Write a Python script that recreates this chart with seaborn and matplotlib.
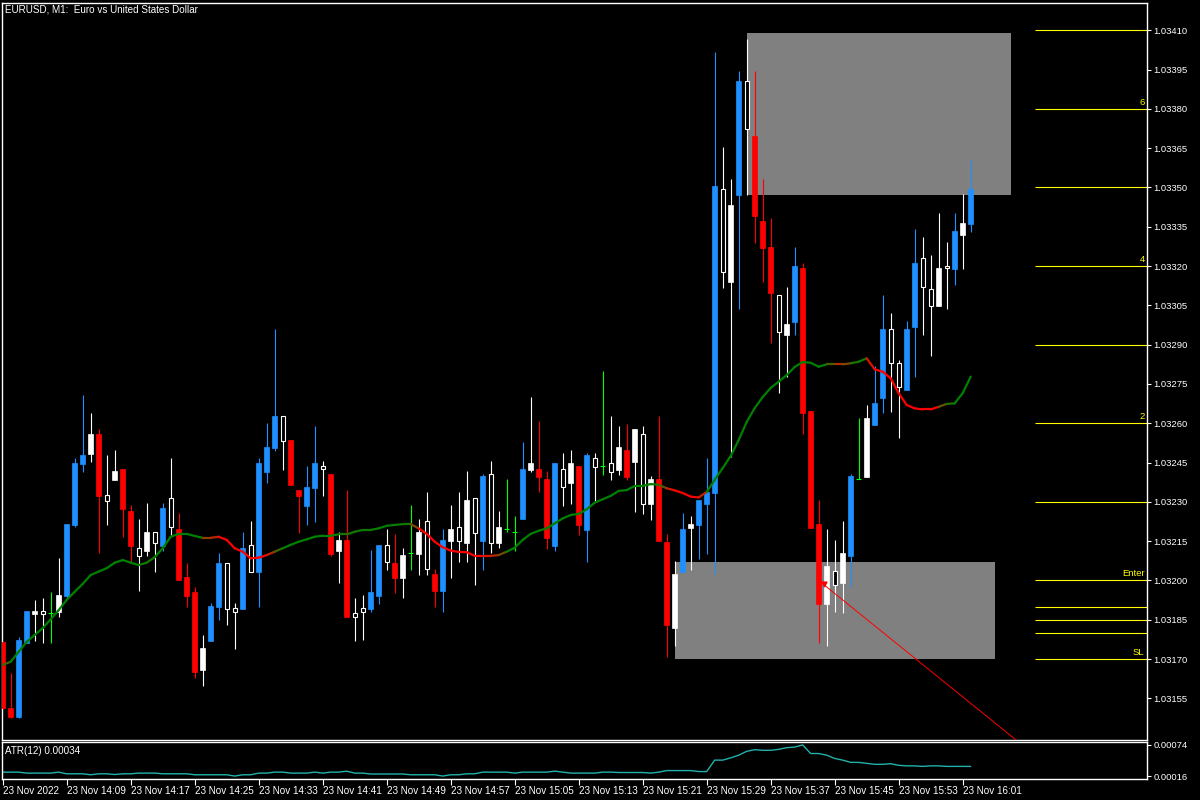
import numpy as np
import pandas as pd
import matplotlib
matplotlib.use('Agg')
import matplotlib.pyplot as plt
import seaborn as sns
from matplotlib.collections import LineCollection
from matplotlib.colors import LinearSegmentedColormap
from matplotlib.patches import Rectangle

# EURUSD M1, 23 Nov 2022, bars 14:01 .. 16:02
opens = [1.031766, 1.031515, 1.031480, 1.031761, 1.031873, 1.031884, 1.031875, 1.031881, 1.031941, 1.032212,
         1.032445, 1.032483, 1.032559, 1.032325, 1.032384, 1.032426, 1.032265, 1.032123, 1.032114, 1.032184,
         1.032133, 1.032314, 1.032197, 1.032013, 1.031956, 1.031658, 1.031769, 1.031899, 1.032067, 1.031895,
         1.031891, 1.032136, 1.032034, 1.032414, 1.032507, 1.032628, 1.032536, 1.032345, 1.032286, 1.032354,
         1.032437, 1.032406, 1.032114, 1.032155, 1.031875, 1.031894, 1.031891, 1.031942, 1.032136, 1.032066,
         1.032011, 1.032104, 1.032101, 1.032227, 1.032025, 1.031961, 1.032152, 1.032203, 1.032144, 1.032314,
         1.032152, 1.032405, 1.032144, 1.032195, 1.032184, 1.032234, 1.032422, 1.032426, 1.032387, 1.032133,
         1.032426, 1.032373, 1.032437, 1.032193, 1.032466, 1.032437, 1.032447, 1.032422, 1.032498, 1.032453,
         1.032558, 1.032292, 1.032387, 1.032146, 1.031820, 1.032034, 1.032202, 1.032212, 1.032292, 1.032335,
         1.033493, 1.033140, 1.033471, 1.033906, 1.033697, 1.033372, 1.033273, 1.033090, 1.032937, 1.032988,
         1.033193, 1.032647, 1.032216, 1.031910, 1.032036, 1.031992, 1.032094, 1.032386, 1.032396, 1.032595,
         1.032698, 1.032960, 1.032829, 1.032727, 1.032969, 1.033230, 1.033111, 1.033049, 1.033199, 1.033189,
         1.033319, 1.033361]
highs = [1.031766, 1.031646, 1.031785, 1.031885, 1.031926, 1.031932, 1.031956, 1.032085, 1.032216, 1.032469,
         1.032708, 1.032641, 1.032578, 1.032479, 1.032498, 1.032426, 1.032288, 1.032235, 1.032295, 1.032184,
         1.032296, 1.032466, 1.032256, 1.032068, 1.031976, 1.031792, 1.031915, 1.032106, 1.032067, 1.031915,
         1.032186, 1.032228, 1.032469, 1.032600, 1.032960, 1.032628, 1.032536, 1.032345, 1.032437, 1.032590,
         1.032456, 1.032406, 1.032184, 1.032345, 1.031932, 1.031945, 1.032116, 1.032136, 1.032197, 1.032178,
         1.032123, 1.032288, 1.032234, 1.032337, 1.032043, 1.032197, 1.032288, 1.032337, 1.032418, 1.032314,
         1.032405, 1.032456, 1.032265, 1.032387, 1.032246, 1.032530, 1.032702, 1.032609, 1.032418, 1.032447,
         1.032485, 1.032498, 1.032437, 1.032485, 1.032485, 1.032800, 1.032628, 1.032590, 1.032597, 1.032578,
         1.032590, 1.032399, 1.032628, 1.032176, 1.032074, 1.032256, 1.032246, 1.032307, 1.032466, 1.034017,
         1.033653, 1.033532, 1.033945, 1.034067, 1.033945, 1.033532, 1.033382, 1.033090, 1.033119, 1.033272,
         1.033211, 1.032647, 1.032307, 1.032197, 1.032155, 1.032227, 1.032405, 1.032619, 1.032670, 1.032819,
         1.033090, 1.033020, 1.032842, 1.032990, 1.033342, 1.033310, 1.033242, 1.033403, 1.033292, 1.033403,
         1.033475, 1.033605]
lows = [1.031508, 1.031474, 1.031476, 1.031761, 1.031769, 1.031763, 1.031763, 1.031862, 1.031931, 1.032205,
        1.032415, 1.032453, 1.032104, 1.032212, 1.032384, 1.032166, 1.032072, 1.031961, 1.032095, 1.032034,
        1.032114, 1.032174, 1.032002, 1.031900, 1.031629, 1.031597, 1.031769, 1.031849, 1.031830, 1.031739,
        1.031891, 1.032034, 1.031900, 1.032373, 1.032495, 1.032422, 1.032365, 1.032180, 1.032212, 1.032224,
        1.032324, 1.032095, 1.031992, 1.031861, 1.031769, 1.031773, 1.031881, 1.031910, 1.032040, 1.031953,
        1.031932, 1.032040, 1.032021, 1.032021, 1.031900, 1.031881, 1.032011, 1.032072, 1.032072, 1.031983,
        1.032040, 1.032104, 1.032123, 1.032184, 1.032114, 1.032234, 1.032415, 1.032337, 1.032120, 1.032114,
        1.032286, 1.032292, 1.032174, 1.032072, 1.032303, 1.032403, 1.032384, 1.032403, 1.032384, 1.032263,
        1.032254, 1.032231, 1.032152, 1.031709, 1.031751, 1.032034, 1.032040, 1.032082, 1.032101, 1.032024,
        1.033118, 1.032473, 1.033036, 1.033471, 1.033289, 1.033140, 1.032908, 1.032717, 1.032778, 1.032937,
        1.032558, 1.032202, 1.031763, 1.031751, 1.031881, 1.031875, 1.031974, 1.032386, 1.032396, 1.032595,
        1.032638, 1.032644, 1.032545, 1.032727, 1.032778, 1.032937, 1.032858, 1.033049, 1.033037, 1.033128,
        1.033189, 1.033330]
closes = [1.031512, 1.031478, 1.031773, 1.031885, 1.031884, 1.031873, 1.031875, 1.031945, 1.032216, 1.032450,
          1.032479, 1.032559, 1.032323, 1.032305, 1.032419, 1.032273, 1.032133, 1.032095, 1.032184, 1.032144,
          1.032277, 1.032203, 1.032002, 1.031941, 1.031652, 1.031744, 1.031903, 1.032068, 1.031892, 1.031881,
          1.032125, 1.032034, 1.032450, 1.032511, 1.032628, 1.032534, 1.032365, 1.032324, 1.032358, 1.032448,
          1.032424, 1.032101, 1.032155, 1.031862, 1.031862, 1.031881, 1.031955, 1.032136, 1.032072, 1.032011,
          1.032097, 1.032104, 1.032186, 1.032043, 1.031961, 1.032155, 1.032197, 1.032152, 1.032307, 1.032183,
          1.032399, 1.032144, 1.032203, 1.032195, 1.032184, 1.032426, 1.032447, 1.032396, 1.032163, 1.032447,
          1.032356, 1.032447, 1.032212, 1.032479, 1.032434, 1.032437, 1.032415, 1.032508, 1.032396, 1.032578,
          1.032292, 1.032387, 1.032152, 1.031830, 1.032025, 1.032197, 1.032216, 1.032307, 1.032337, 1.033506,
          1.033179, 1.033433, 1.033906, 1.033722, 1.033392, 1.033270, 1.033098, 1.032950, 1.032979, 1.033200,
          1.032638, 1.032202, 1.031910, 1.032056, 1.031983, 1.032106, 1.032399, 1.032386, 1.032619, 1.032679,
          1.032960, 1.032829, 1.032737, 1.032960, 1.033211, 1.033119, 1.033049, 1.033192, 1.033192, 1.033334,
          1.033365, 1.033494]
# candle colouring: b blue, r red, w white body, h hollow, d doji
kinds = list("rrbbwhdwbb" "bwrhwrrhwh" "bhrrrwbbhh" "bhbbbhrrbb" "hrwrhhbbhr"
             "wdwhrbwhwh" "bhwddbwrrb" "hwrbhdhwrw" "hwrrwbwbbb" "hwbhrrrhwb"
             "rrrwhwbdwb" "bhhbbhhwhb" "wb")

# moving average drawn on the chart
ma = [1.031678, 1.031690, 1.031728, 1.031766, 1.031792, 1.031818, 1.031852, 1.031887, 1.031926, 1.031957,
      1.031987, 1.032021, 1.032034, 1.032047, 1.032068, 1.032078, 1.032068, 1.032059, 1.032068, 1.032089,
      1.032123, 1.032167, 1.032178, 1.032178, 1.032170, 1.032163, 1.032163, 1.032167, 1.032155, 1.032123,
      1.032110, 1.032085, 1.032087, 1.032097, 1.032110, 1.032123, 1.032136, 1.032148, 1.032157, 1.032167,
      1.032171, 1.032171, 1.032176, 1.032176, 1.032186, 1.032193, 1.032193, 1.032199, 1.032209, 1.032212,
      1.032215, 1.032215, 1.032199, 1.032178, 1.032148, 1.032127, 1.032114, 1.032109, 1.032108, 1.032094,
      1.032094, 1.032094, 1.032097, 1.032110, 1.032125, 1.032155, 1.032178, 1.032190, 1.032199, 1.032218,
      1.032237, 1.032250, 1.032254, 1.032272, 1.032297, 1.032310, 1.032323, 1.032342, 1.032345, 1.032361,
      1.032361, 1.032368, 1.032365, 1.032352, 1.032344, 1.032334, 1.032320, 1.032317, 1.032338, 1.032384,
      1.032429, 1.032475, 1.032536, 1.032605, 1.032658, 1.032700, 1.032735, 1.032759, 1.032784, 1.032815,
      1.032834, 1.032831, 1.032816, 1.032825, 1.032825, 1.032825, 1.032829, 1.032835, 1.032848, 1.032806,
      1.032797, 1.032772, 1.032715, 1.032670, 1.032657, 1.032653, 1.032653, 1.032663, 1.032674, 1.032676,
      1.032715, 1.032778]

# ATR(12) sub window
atr = [0.000233, 0.000233, 0.000233, 0.000215, 0.000215, 0.000215, 0.000215, 0.000233, 0.000202, 0.000202,
       0.000202, 0.000184, 0.000202, 0.000202, 0.000189, 0.000202, 0.000202, 0.000215, 0.000215, 0.000215,
       0.000202, 0.000202, 0.000202, 0.000202, 0.000184, 0.000184, 0.000184, 0.000184, 0.000184, 0.000160,
       0.000184, 0.000184, 0.000215, 0.000215, 0.000233, 0.000233, 0.000215, 0.000215, 0.000215, 0.000233,
       0.000215, 0.000233, 0.000233, 0.000251, 0.000215, 0.000215, 0.000198, 0.000198, 0.000198, 0.000198,
       0.000198, 0.000184, 0.000184, 0.000184, 0.000184, 0.000160, 0.000184, 0.000184, 0.000202, 0.000202,
       0.000233, 0.000233, 0.000233, 0.000233, 0.000215, 0.000233, 0.000233, 0.000233, 0.000233, 0.000251,
       0.000233, 0.000215, 0.000215, 0.000215, 0.000215, 0.000233, 0.000233, 0.000226, 0.000226, 0.000226,
       0.000226, 0.000215, 0.000233, 0.000262, 0.000262, 0.000262, 0.000262, 0.000244, 0.000244, 0.000457,
       0.000457, 0.000499, 0.000549, 0.000621, 0.000652, 0.000640, 0.000640, 0.000658, 0.000689, 0.000700,
       0.000740, 0.000580, 0.000580, 0.000549, 0.000488, 0.000457, 0.000415, 0.000415, 0.000397, 0.000379,
       0.000379, 0.000390, 0.000360, 0.000350, 0.000350, 0.000340, 0.000350, 0.000350, 0.000340, 0.000340,
       0.000340, 0.000340]

# right hand level lines
levels = [1.03410, 1.03380, 1.03350, 1.03320, 1.03290, 1.03260, 1.03230, 1.03200, 1.03190, 1.03185, 1.03180, 1.03170]
level_labels = ['', '6', '', '4', '', '2', '', 'Enter', '', '', '', 'SL']

# rectangles: (start bar, end bar, low, high)
zones = [(93, 126, 1.03347, 1.03409), (84, 124, 1.03170, 1.03207)]
# red trend line anchors (bar, price)
trend = [(102.4, 1.03199), (117.4, 1.03162)]

price_ticks = [1.03155, 1.03170, 1.03185, 1.03200, 1.03215, 1.03230, 1.03245, 1.03260, 1.03275, 1.03290,
               1.03305, 1.03320, 1.03335, 1.03350, 1.03365, 1.03380, 1.03395, 1.03410]
time_ticks = [0, 8, 16, 24, 32, 40, 48, 56, 64, 72, 80, 88, 96, 104, 112, 120]
time_labels = ['23 Nov 2022', '23 Nov 14:09', '23 Nov 14:17', '23 Nov 14:25', '23 Nov 14:33', '23 Nov 14:41',
               '23 Nov 14:49', '23 Nov 14:57', '23 Nov 15:05', '23 Nov 15:13', '23 Nov 15:21', '23 Nov 15:29',
               '23 Nov 15:37', '23 Nov 15:45', '23 Nov 15:53', '23 Nov 16:01']

sns.set_theme(style='dark', rc={'axes.facecolor': 'black', 'figure.facecolor': 'black',
                                'axes.edgecolor': 'white', 'text.color': 'white',
                                'xtick.color': 'white', 'ytick.color': 'white'})
plt.rcParams['font.family'] = ['Liberation Sans', 'DejaVu Sans']
FS = 6.8
FT = 7.1

df = pd.DataFrame({'o': opens, 'h': highs, 'l': lows, 'c': closes, 'kind': kinds})
df['bar'] = np.arange(len(df))
df['lo'] = df[['o', 'c']].min(axis=1)
df['hi'] = df[['o', 'c']].max(axis=1)
colours = {'b': '#1E90FF', 'r': '#FF0000', 'w': '#FFFFFF', 'h': '#FFFFFF', 'd': '#00FF00'}
df['col'] = df['kind'].map(colours)

fig = plt.figure(figsize=(12, 8), dpi=100)
ax = fig.add_axes([2 / 1200, 60 / 800, 1145 / 1200, 737 / 800])
ax2 = fig.add_axes([2 / 1200, 21 / 800, 1145 / 1200, 37 / 800])
xlim = (-0.0875, 143.04)

# zones in the background
for b0, b1, p0, p1 in zones:
    ax.add_patch(Rectangle((b0, p0), b1 - b0, p1 - p0, facecolor='#808080', edgecolor='none', zorder=1))

# wicks
ax.vlines(df['bar'], df['l'], df['h'], colors=df['col'], lw=0.8, zorder=3)

# bodies
solid = df[df['kind'].isin(['b', 'r', 'w'])]
ax.bar(solid['bar'], solid['hi'] - solid['lo'], bottom=solid['lo'], width=0.56,
       color=solid['col'], edgecolor=solid['col'], linewidth=0.5, zorder=4)
hollow = df[df['kind'] == 'h']
ax.bar(hollow['bar'], hollow['hi'] - hollow['lo'], bottom=hollow['lo'], width=0.5,
       color='black', edgecolor='white', linewidth=0.8, zorder=4)
doji = df[df['kind'] == 'd']
ax.hlines(doji['o'], doji['bar'] - 0.32, doji['bar'] + 0.32, colors='#00FF00', lw=0.8, zorder=4)

# moving average, coloured by its slope over the last few bars
ma_arr = np.array(ma)
lag = 5
slope = ma_arr - np.concatenate([np.full(lag, ma_arr[0]), ma_arr[:-lag]])
t = np.clip(0.5 + slope / 0.00005, 0, 1)
cmap = LinearSegmentedColormap.from_list('ma', ['#FF0000', '#7A4A00', '#008000'])
pts = np.column_stack([df['bar'], ma_arr])
segs = np.stack([pts[:-1], pts[1:]], axis=1)
lc = LineCollection(segs, colors=cmap(t[1:]), linewidths=1.6, zorder=5, capstyle='round')
ax.add_collection(lc)

# trend line (ray to the right)
(tx0, ty0), (tx1, ty1) = trend
k = (ty1 - ty0) / (tx1 - tx0)
ax.plot([tx0, xlim[1] + 5], [ty0, ty0 + k * (xlim[1] + 5 - tx0)], color='#FF0000', lw=0.7, zorder=6)
ax.plot(tx0 + 0.3, ty0 - 0.000004, marker='v', color='#FF0000', ms=3.5, zorder=6)

# level lines
ax.hlines(levels, 129.0, xlim[1], colors='#FFFF00', lw=0.8, zorder=2)
for lv, lab in zip(levels, level_labels):
    if lab:
        ax.text(xlim[1] - 0.3, lv + 0.000008, lab, color='#FFFF00', fontsize=FS, ha='right', va='bottom')

ax.set_xlim(*xlim)
ax.set_ylim(1.0313912, 1.0342042)
ax.yaxis.tick_right()
ax.set_yticks(price_ticks)
ax.set_yticklabels([f'{p:.5f}' for p in price_ticks])
ax.tick_params(axis='y', which='both', right=True, length=3, width=0.8, pad=1.5, labelsize=FS,
               colors='white', direction='out')
ax.set_xticks([])
for s in ax.spines.values():
    s.set_color('white')
    s.set_linewidth(1.0)

# ATR window
sns.lineplot(x=df['bar'], y=atr, ax=ax2, color='#20B2AA', lw=1.0)
ax2.set_xlim(*xlim)
ax2.set_ylim(0.000105, 0.000795)
ax2.yaxis.tick_right()
ax2.set_yticks([0.00016, 0.00074])
ax2.set_yticklabels(['0.00016', '0.00074'])
ax2.tick_params(axis='y', right=True, length=3, width=0.8, pad=1.5, labelsize=FS, colors='white')
ax2.set_xticks(time_ticks)
ax2.set_xticklabels(time_labels, ha='left')
ax2.tick_params(axis='x', bottom=True, length=4, width=0.8, pad=1, labelsize=FT, colors='white')
ax2.set_xlabel('')
ax2.set_ylabel('')
for s in ax2.spines.values():
    s.set_color('white')
    s.set_linewidth(1.0)

fig.text(5 / 1200, 1 - 9 / 800, 'EURUSD, M1:  Euro vs United States Dollar', color='white',
         fontsize=FT, ha='left', va='center')
fig.text(5 / 1200, 1 - 751 / 800, 'ATR(12) 0.00034', color='white', fontsize=FT, ha='left', va='center')

fig.savefig('out.png', dpi=100, facecolor='black')
